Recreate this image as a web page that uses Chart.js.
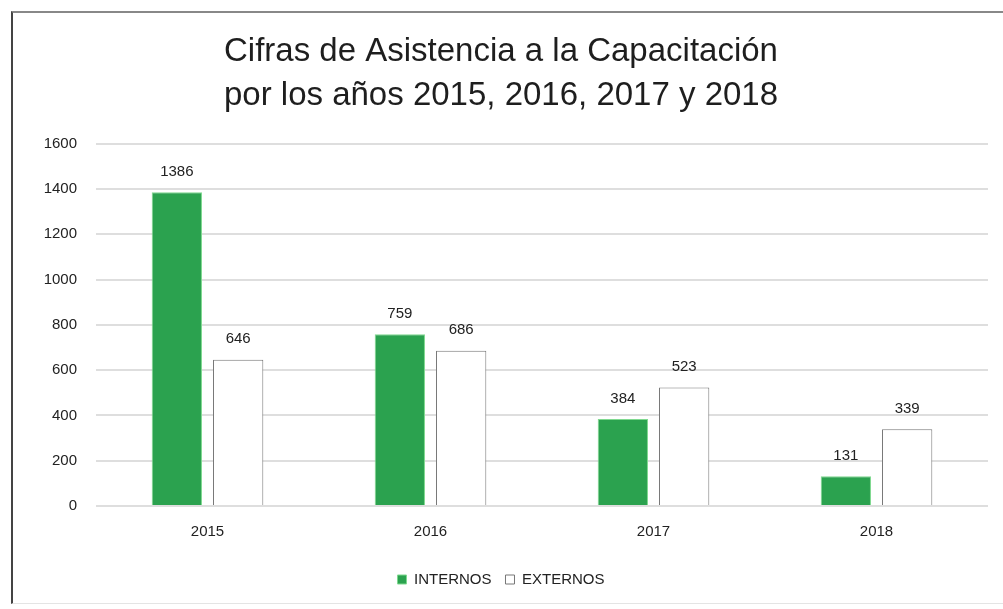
<!DOCTYPE html>
<html>
<head>
<meta charset="utf-8">
<style>
    html, body { margin: 0; padding: 0; background: #fff; }
    #frame {
        position: absolute;
        left: 11px; top: 11px;
        width: 1000px; height: 593px;
        border-left: 2px solid #444;
        border-top: 2px solid #888;
        border-bottom: 1px solid #e4e4e4;
        box-sizing: border-box;
    }
    #wrap { position: absolute; left: 1px; top: 0; width: 990px; height: 590px; }
</style>
</head>
<body>
<div id="frame">
    <div id="wrap"><canvas id="asistenciaChart"></canvas></div>
</div>

<script src="https://cdn.jsdelivr.net/npm/chart.js"></script>
<script>
    const years = ["2015", "2016", "2017", "2018"];
    const internos = [1386, 759, 384, 131];
    const externos = [646, 686, 523, 339];
    const yTicks = [0, 200, 400, 600, 800, 1000, 1200, 1400, 1600];

    const FONT = "'Liberation Sans', Arial, sans-serif";

    // draws the value over each bar (no datalabels plugin offline)
    const valueLabels = {
        id: "valueLabels",
        afterDatasetsDraw(chart) {
            const ctx = chart.ctx;
            ctx.save();
            ctx.font = "15px " + FONT;
            ctx.fillStyle = "#222";
            ctx.textAlign = "center";
            ctx.textBaseline = "bottom";
            chart.data.datasets.forEach((ds, i) => {
                chart.getDatasetMeta(i).data.forEach((bar, j) => {
                    ctx.fillText(ds.data[j], bar.x, bar.y - 13);
                });
            });
            ctx.restore();
        }
    };

    new Chart(document.getElementById("asistenciaChart"), {
        type: "bar",
        data: {
            labels: years,
            datasets: [
                {
                    label: "INTERNOS",
                    data: internos,
                    backgroundColor: "#2ba24f",
                    borderColor: "#7fd98f",
                    borderWidth: 1
                },
                {
                    label: "EXTERNOS",
                    data: externos,
                    backgroundColor: "#ffffff",
                    borderColor: "#777777",
                    borderWidth: 1
                }
            ]
        },
        options: {
            responsive: true,
            maintainAspectRatio: false,
            animation: false,
            categoryPercentage: 0.55,
            barPercentage: 0.82,
            layout: { padding: { left: 0, right: 16, top: 16, bottom: 6 } },
            plugins: {
                title: {
                    display: true,
                    text: ["Cifras de Asistencia a la Capacitación", "por los años 2015, 2016, 2017 y 2018"],
                    color: "#1e1e1e",
                    font: { family: FONT, size: 33, weight: "normal", lineHeight: 1.36 },
                    padding: { top: 0, bottom: 25 }
                },
                legend: {
                    position: "bottom",
                    labels: {
                        color: "#222",
                        font: { family: FONT, size: 15 },
                        boxWidth: 9,
                        boxHeight: 9,
                        padding: 14
                    }
                },
                tooltip: { enabled: false }
            },
            scales: {
                x: {
                    grid: { display: false, drawTicks: false },
                    border: { display: false },
                    ticks: { color: "#222", font: { family: FONT, size: 15 }, padding: 17 }
                },
                y: {
                    min: 0,
                    max: 1600,
                    afterBuildTicks: scale => { scale.ticks = yTicks.map(v => ({ value: v })); },
                    afterFit: scale => { scale.width = 82; },
                    grid: { color: "#dedede", lineWidth: 2, drawTicks: false },
                    border: { display: false },
                    ticks: {
                        color: "#222",
                        font: { family: FONT, size: 15 },
                        padding: 19,
                        callback: v => String(v)
                    }
                }
            }
        },
        plugins: [valueLabels]
    });
</script>
</body>
</html>
